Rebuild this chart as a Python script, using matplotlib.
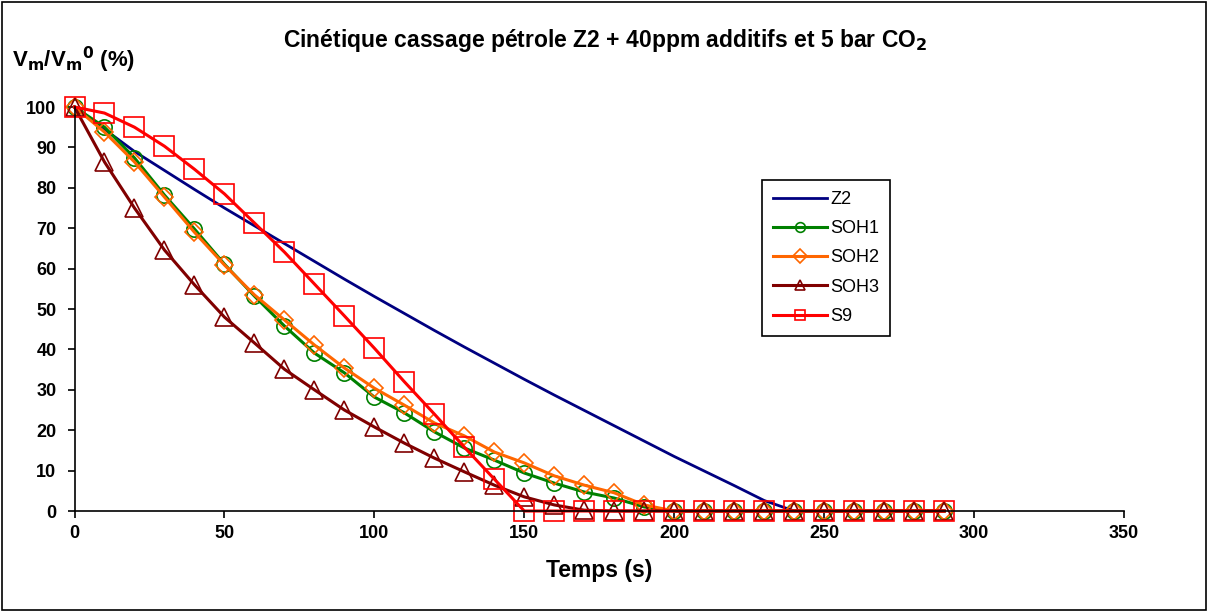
import matplotlib
matplotlib.use('Agg')
import matplotlib.pyplot as plt
from matplotlib.patches import Rectangle

plt.rcParams['font.family'] = ['Liberation Sans', 'DejaVu Sans']

# temps (s)
temps = list(range(0, 300, 10))

# Vm/Vm0 (%) for each sample
z2 = [100, 94.5, 89, 84.3, 79.6, 75, 70.6, 66.2, 61.8, 57.4,
      53.1, 48.9, 44.7, 40.6, 36.6, 32.6, 28.7, 24.9, 21.1, 17.3,
      13.5, 9.9, 6.3, 2.6, 0, 0, 0, 0, 0, 0]
soh1 = [100, 95, 87.4, 78.2, 69.8, 61.1, 53.2, 45.8, 39.1, 34.2,
        28.2, 24.3, 19.6, 15.6, 12.6, 9.4, 6.9, 4.7, 3.2, 1,
        0, 0, 0, 0, 0, 0, 0, 0, 0, 0]
soh2 = [100, 93.8, 86.4, 77.7, 69, 60.9, 53.5, 47.3, 41.1, 35.4,
        30.4, 26.2, 21.8, 18.6, 14.6, 11.9, 8.7, 6.4, 4.5, 1.5,
        0, 0, 0, 0, 0, 0, 0, 0, 0, 0]
soh3 = [100, 86.4, 75, 64.6, 56, 48, 41.6, 35.1, 30, 25,
        20.8, 16.8, 13.1, 9.7, 6.4, 3.5, 1.5, 0.2, 0, 0,
        0, 0, 0, 0, 0, 0, 0, 0, 0, 0]
s9 = [100, 98.5, 95, 90.3, 84.6, 78.5, 71.3, 64.1, 56.2, 48.3,
      40.3, 32, 24, 15.8, 7.9, 0, 0, 0, 0, 0,
      0, 0, 0, 0, 0, 0, 0, 0, 0, 0]

fig = plt.figure(figsize=(12.1, 6.12), dpi=100)
ax = fig.add_axes([74.5 / 1210, 1 - 511 / 612, (1124 - 74.5) / 1210, (511 - 107) / 612])

ax.plot(temps, z2, color='#000080', lw=2, label='Z2', clip_on=False)
ax.plot(temps, soh1, color='#008000', lw=2.2, marker='o', ms=11, mfc='none', mew=1.2,
        label='SOH1', clip_on=False)
ax.plot(temps, soh2, color='#FF6600', lw=2.2, marker='D', ms=9.5, mfc='none', mew=1.2,
        label='SOH2', clip_on=False)
ax.plot(temps, soh3, color='#800000', lw=2.2, marker='^', ms=13.5, mfc='none', mew=1.2,
        label='SOH3', clip_on=False)
ax.plot(temps, s9, color='#FF0000', lw=2.2, marker='s', ms=14, mfc='none', mew=1.2,
        label='S9', clip_on=False)

ax.set_xlim(0, 350)
ax.set_ylim(0, 100)
ax.set_xticks(range(0, 351, 50))
ax.set_yticks(range(0, 101, 10))
ax.spines['top'].set_visible(False)
ax.spines['right'].set_visible(False)
ax.spines['left'].set_linewidth(1.2)
ax.spines['bottom'].set_linewidth(1.2)
ax.tick_params(axis='both', direction='out', length=5, width=1.2, labelsize=13)
ax.tick_params(axis='y', pad=8)
ax.tick_params(axis='x', pad=5)
for lab in ax.get_xticklabels() + ax.get_yticklabels():
    lab.set_fontweight('bold')
ax.patch.set_visible(False)

fig.text(0.5, 1 - 40 / 612, 'Cinétique cassage pétrole Z2 + 40ppm additifs et 5 bar CO$_\\mathbf{2}$',
         ha='center', va='center', fontsize=16.5, fontweight='bold')
fig.text(12 / 1210, 1 - 60 / 612, 'V$_\\mathbf{m}$/V$_\\mathbf{m}$$^\\mathbf{0}$ (%)',
         ha='left', va='center', fontsize=16, fontweight='bold')
ax.set_xlabel('Temps (s)', fontsize=16.5, fontweight='bold', labelpad=12)

leg = fig.legend(loc='upper left', bbox_to_anchor=(762 / 1210, 1 - 180 / 612),
                 frameon=True, fancybox=False, edgecolor='black', framealpha=1,
                 fontsize=13, handlelength=3.0, labelspacing=0.68, borderpad=0.6,
                 borderaxespad=0, handletextpad=0.2)
leg.get_frame().set_linewidth(1.2)
for h in leg.legend_handles:
    h.set_markersize(7)

fig.add_artist(Rectangle((0.002, 0.003), 0.995, 0.994, transform=fig.transFigure,
                         fill=False, edgecolor='black', lw=1.2))

fig.savefig('out.png', dpi=100)
